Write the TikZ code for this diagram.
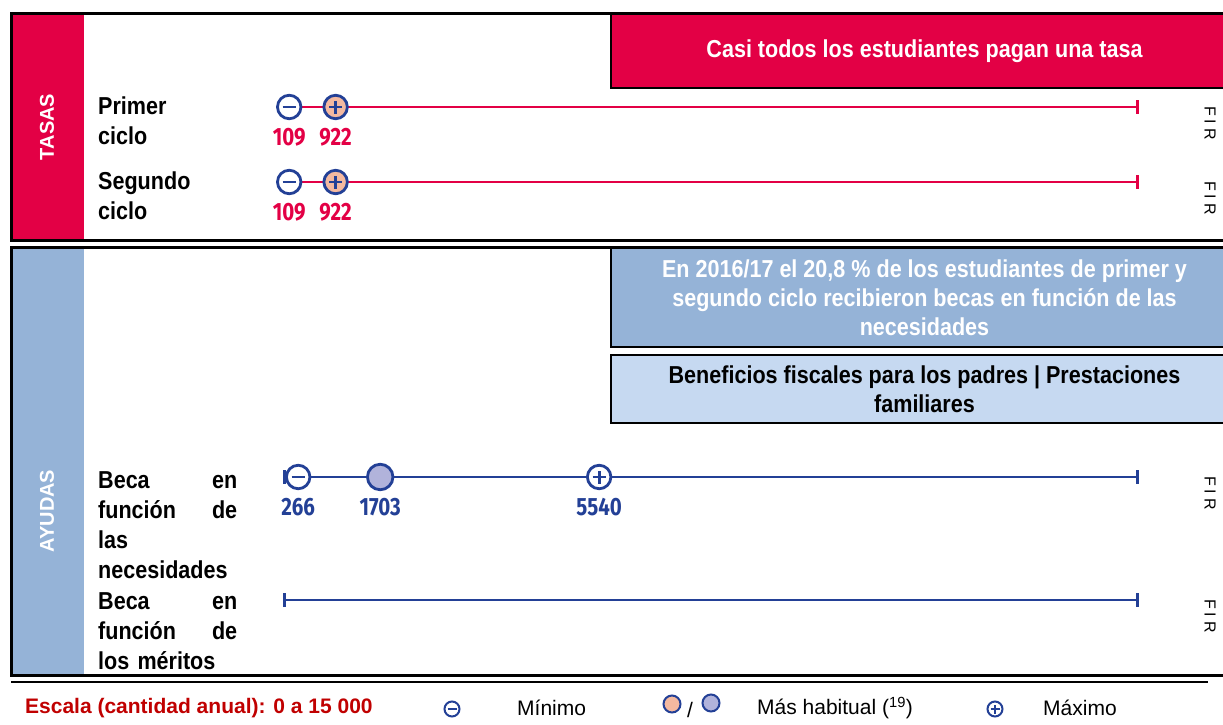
\documentclass[tikz,border=0pt]{standalone}
\usepackage{fontspec}
\setmainfont{Liberation Sans}
\newfontfamily\narrowfont[FakeStretch=0.88]{Liberation Sans}
\newfontfamily\numfont[FakeStretch=0.82]{Fira Sans}
\newfontfamily\firfont[LetterSpace=25]{Liberation Sans}
\usepackage{xcolor}
\usepackage{tikz}
\usetikzlibrary{positioning,%
  arrows.meta,%
  calc
}

\definecolor{tasared}{RGB}{227,0,69}
\definecolor{ayudablue}{RGB}{149,179,215}
\definecolor{paleblue}{RGB}{198,217,241}
\definecolor{darkblue}{RGB}{35,64,150}
\definecolor{peach}{RGB}{244,185,160}
\definecolor{lavender}{RGB}{177,179,219}
\definecolor{escalared}{RGB}{192,0,0}

\newcommand{\valx}[1]{283+#1*0.057067}

\tikzset{
  frame/.style={draw=black,line width=3pt},
  sidelabel/.style={rotate=90,text=white,font=\fontsize{20}{22}\selectfont\bfseries},
  rowlabel/.style={anchor=west,text width=139pt,align=left,inner sep=0pt,
    font=\narrowfont\fontsize{24.5}{30}\selectfont\bfseries},
  infobox/.style={draw=black,line width=2.5pt,outer sep=0pt,anchor=north west,
    minimum width=627pt,align=center,font=\narrowfont\fontsize{24.5}{29}\selectfont\bfseries},
  scaleline/.style={line width=2.8pt,{Bar[width=14pt]}-{Bar[width=14pt]}},
  dot/.style={circle,draw=darkblue,line width=2.8pt,minimum size=23.5pt,inner sep=0pt,outer sep=0pt},
  minusdot/.style={dot,fill=white,path picture={\draw[darkblue,line width=2.8pt]
    ([xshift=-#1]path picture bounding box.center) -- ([xshift=#1]path picture bounding box.center);}},
  minusdot/.default=6.5pt,
  plusdot/.style={dot,path picture={\draw[darkblue,line width=2.8pt]
    ([xshift=-#1]path picture bounding box.center) -- ([xshift=#1]path picture bounding box.center)
    ([yshift=-#1]path picture bounding box.center) -- ([yshift=#1]path picture bounding box.center);}},
  plusdot/.default=6.5pt,
  numlabel/.style={inner sep=0pt,font=\numfont\bfseries\fontsize{25}{25}\selectfont},
  firlabel/.style={rotate=-90,font=\firfont\fontsize{16}{16}\selectfont},
  legtext/.style={anchor=west,inner sep=0pt,font=\fontsize{21}{24}\selectfont}
}

\begin{document}
\begin{tikzpicture}[x=1pt,y=-1pt]
\useasboundingbox (0,0) rectangle (1223,725);

\fill[tasared] (11,14) rectangle (84,240);
\fill[ayudablue] (11,247) rectangle (84,675);
\draw[frame] (11,14) rectangle (1238,240);
\draw[frame] (11,247) rectangle (1238,675);
\draw[line width=2.5pt] (11,682) -- (1208,682);

\node[sidelabel] (tasas) at (47,127) {TASAS};
\node[sidelabel] (ayudas) at (47,511) {AYUDAS};

\node[infobox,fill=tasared,text=white,minimum height=74pt] (tasabox) at (611,14)
  {Casi todos los estudiantes pagan una tasa};
\node[infobox,fill=ayudablue,text=white,minimum height=99pt] (becabox) at (611,248)
  {En 2016/17 el 20,8 \% de los estudiantes de primer y\\segundo ciclo recibieron becas en función de las\\necesidades};
\node[infobox,fill=paleblue,minimum height=68pt] (fiscbox) at (611,355)
  {Beneficios fiscales para los padres | Prestaciones\\familiares};

\node[rowlabel] (primer) at (98,121) {Primer\\ciclo};
\coordinate (p0) at (283,107);
\coordinate (p1) at (1139,107);
\draw[scaleline,tasared] (p0) -- (p1);
\node[minusdot] (pmin) at ({\valx{109}},107) {};
\node[plusdot,fill=peach] (pmax) at ({\valx{922}},107) {};
\node[numlabel,text=tasared,below=9pt of pmin] (pminv) {109};
\node[numlabel,text=tasared,below=9pt of pmax] (pmaxv) {922};
\node[firlabel] (pfir) at (1210,123) {FIR};

\node[rowlabel] (segundo) at (98,196) {Segundo\\ciclo};
\coordinate (s0) at (283,182);
\coordinate (s1) at (1139,182);
\draw[scaleline,tasared] (s0) -- (s1);
\node[minusdot] (smin) at ({\valx{109}},182) {};
\node[plusdot,fill=peach] (smax) at ({\valx{922}},182) {};
\node[numlabel,text=tasared,below=9pt of smin] (sminv) {109};
\node[numlabel,text=tasared,below=9pt of smax] (smaxv) {922};
\node[firlabel] (sfir) at (1210,198) {FIR};

\node[rowlabel] (necesidad) at (98,525) {Beca\hfill en\\función\hfill de\\las\\necesidades};
\coordinate (n0) at (283,477);
\coordinate (n1) at (1139,477);
\draw[scaleline,darkblue] (n0) -- (n1);
\node[minusdot] (nmin) at ({\valx{266}},477) {};
\node[dot,fill=lavender,minimum size=25.5pt] (nhab) at ({\valx{1703}},477) {};
\node[plusdot,fill=white] (nmax) at ({\valx{5540}},477) {};
\node[numlabel,text=darkblue,below=9pt of nmin] (nminv) {266};
\node[numlabel,text=darkblue,below=8pt of nhab] (nhabv) {1703};
\node[numlabel,text=darkblue,below=9pt of nmax] (nmaxv) {5540};
\node[firlabel] (nfir) at (1210,493) {FIR};

\node[rowlabel] (merito) at (98,631) {Beca\hfill en\\función\hfill de\\los méritos};
\coordinate (m0) at (283,600);
\coordinate (m1) at (1139,600);
\draw[scaleline,darkblue] (m0) -- (m1);
\node[firlabel] (mfir) at (1210,616) {FIR};

\node[legtext,text=escalared,font=\fontsize{21}{24}\selectfont\bfseries] (escala) at (25,708)
  {Escala (cantidad anual): 0 a 15 000};
\node[minusdot=4.5pt,minimum size=15pt,line width=2pt] (lmin) at (452,709) {};
\node[legtext] (lmintxt) at (517,708) {Mínimo};
\node[dot,fill=peach,minimum size=17pt,line width=2pt] (lhab1) at (672,704) {};
\node[legtext] (lslash) at (687,710) {/};
\node[dot,fill=lavender,minimum size=17pt,line width=2pt] (lhab2) at (711,703) {};
\node[legtext] (lhabtxt) at (757,708) {Más habitual (\textsuperscript{19})};
\node[plusdot=4.5pt,fill=white,minimum size=15pt,line width=2pt] (lmax) at (995,709) {};
\node[legtext] (lmaxtxt) at (1043,708) {Máximo};
\end{tikzpicture}
\end{document}
